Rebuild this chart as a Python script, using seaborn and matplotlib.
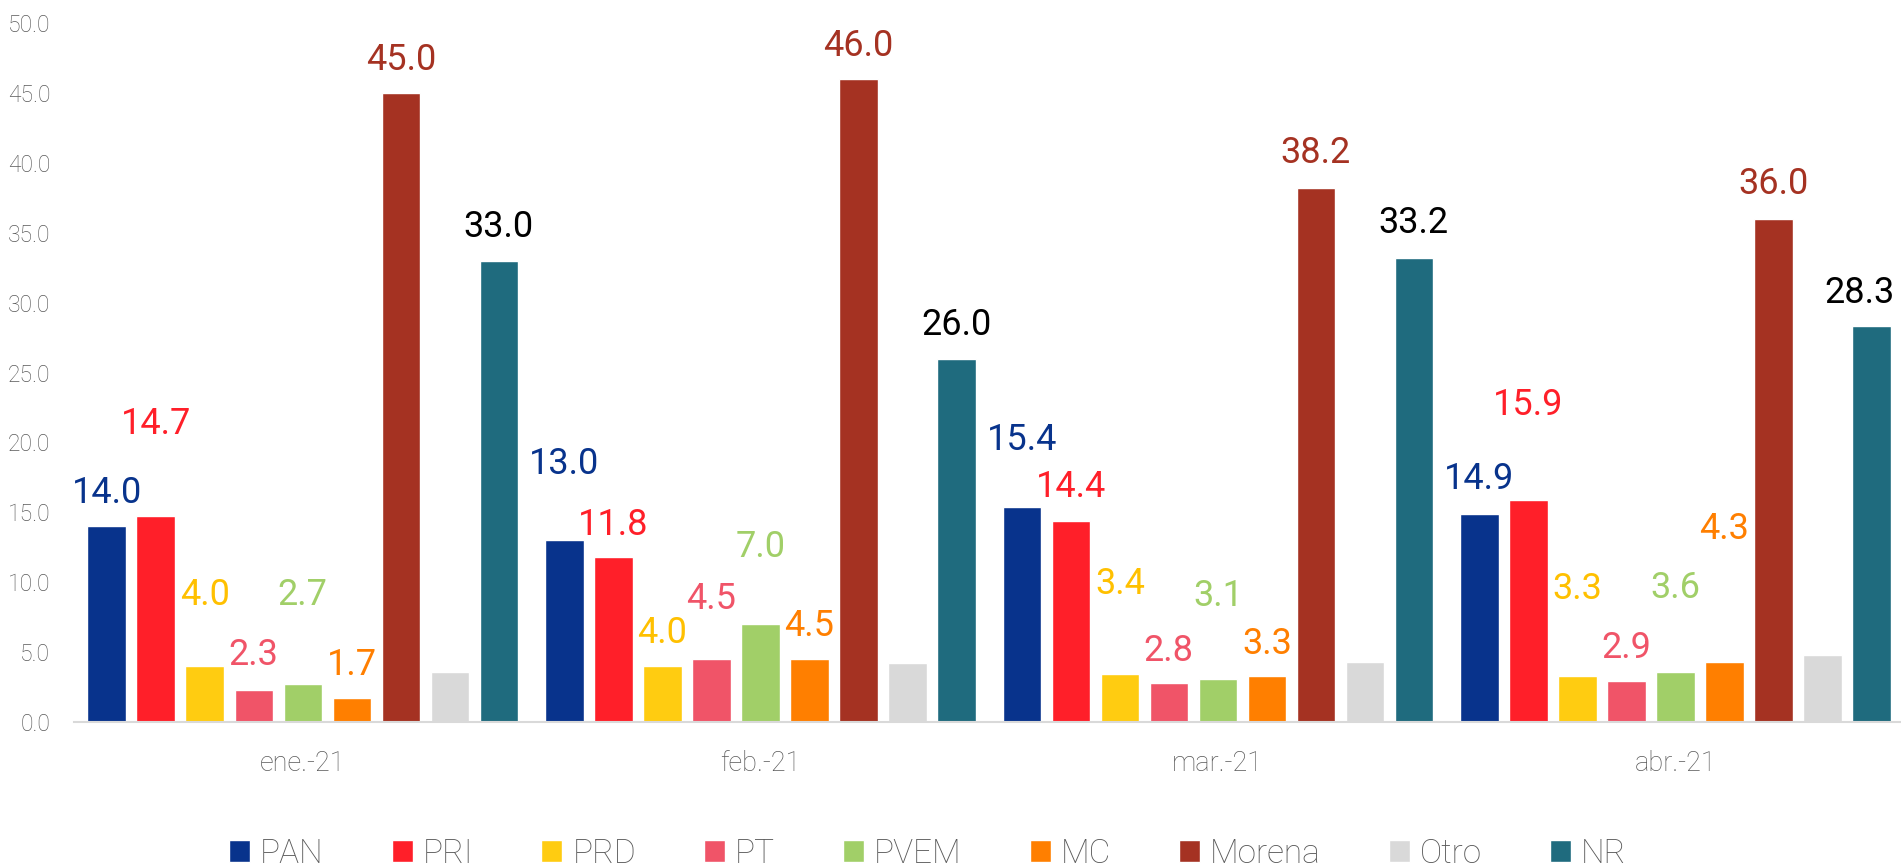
import numpy as np
import pandas as pd
import matplotlib
matplotlib.use("Agg")
import matplotlib.pyplot as plt
import seaborn as sns
from matplotlib.ticker import FormatStrFormatter

# --- Data ---
meses = ["ene.-21", "feb.-21", "mar.-21", "abr.-21"]
partidos = ["PAN", "PRI", "PRD", "PT", "PVEM", "MC", "Morena", "Otro", "NR"]

pan = [14.0, 13.0, 15.4, 14.9]
pri = [14.7, 11.8, 14.4, 15.9]
prd = [4.0, 4.0, 3.4, 3.3]
pt = [2.3, 4.5, 2.8, 2.9]
pvem = [2.7, 7.0, 3.1, 3.6]
mc = [1.7, 4.5, 3.3, 4.3]
morena = [45.0, 46.0, 38.2, 36.0]
otro = [3.6, 4.2, 4.3, 4.8]
nr = [33.0, 26.0, 33.2, 28.3]

valores = [pan, pri, prd, pt, pvem, mc, morena, otro, nr]

# --- Style ---
colores = ["#08338C", "#FF1F29", "#FFCC11", "#F05468", "#A1CF68",
           "#FF7F00", "#A53222", "#D9D9D9", "#1F6B7E"]
colores_etiqueta = ["#08338C", "#FF1F29", "#FFC000", "#F05468", "#A1CF68",
                    "#FF7F00", "#A53222", None, "#000000"]

# vertical position of each value label (centre) above its bar, data units
desfase = {
    "PAN": [2.6, 5.7, 5.0, 2.7],
    "PRI": [6.8, 2.5, 2.6, 7.0],
    "PRD": [5.3, 2.6, 6.7, 6.4],
    "PT": [2.7, 4.5, 2.5, 2.6],
    "PVEM": [6.6, 5.7, 6.1, 6.2],
    "MC": [2.6, 2.6, 2.5, 9.7],
    "Morena": [2.6, 2.6, 2.7, 2.7],
    "NR": [2.6, 2.6, 2.7, 2.6],
}

rows = []
for partido, serie in zip(partidos, valores):
    for mes, v in zip(meses, serie):
        rows.append({"mes": mes, "partido": partido, "valor": v})
df = pd.DataFrame(rows)

sns.set_theme(style="white")
plt.rcParams["font.family"] = ["Roboto", "DejaVu Sans"]
plt.rcParams["font.weight"] = "light"

W, H = 1901, 868
fig = plt.figure(figsize=(W / 100, H / 100), dpi=100)
ax = fig.add_axes([74 / W, 1 - 722 / H, (W - 74) / W, 699 / H])

sns.barplot(data=df, x="mes", y="valor", hue="partido", order=meses,
            hue_order=partidos, palette=colores, width=0.964, gap=0.214,
            saturation=1, errorbar=None, legend=False, ax=ax)

ax.set_xlim(-0.5, 3.493)
ax.set_ylim(0, 50)
ax.set_xlabel("")
ax.set_ylabel("")
ax.set_yticks(np.arange(0, 51, 5))
ax.yaxis.set_major_formatter(FormatStrFormatter("%.1f"))
ax.tick_params(axis="y", length=0, pad=17, labelsize=16.5, labelcolor="#595959")
ax.tick_params(axis="x", length=0, pad=20, labelsize=19.5, labelcolor="#595959")

sns.despine(ax=ax, left=True)
ax.spines["bottom"].set_color("#D9D9D9")
ax.spines["bottom"].set_linewidth(1.5)

# value labels
medio_cap = 0.93
etiquetas = []
for cont, partido, col in zip(ax.containers, partidos, colores_etiqueta):
    if partido == "Otro":
        continue
    for j, bar in enumerate(cont):
        h = bar.get_height()
        x = bar.get_x() + bar.get_width() / 2
        t = ax.text(x, h + desfase[partido][j] - medio_cap, f"{h:.1f}",
                    ha="center", va="baseline", fontsize=26,
                    fontweight="normal", color=col, clip_on=False)
        etiquetas.append(t)

# keep labels inside the right edge of the figure (as the original does)
fig.canvas.draw()
r = fig.canvas.get_renderer()
for t in etiquetas:
    bb = t.get_window_extent(r)
    if bb.x1 > W - 6:
        dx = (bb.x1 - (W - 6)) / ax.bbox.width * np.diff(ax.get_xlim())[0]
        x0, y0 = t.get_position()
        t.set_position((x0 - dx, y0))

fig.legend(list(ax.containers), partidos, loc="center",
           bbox_to_anchor=(0.488, 0.016), ncol=9, frameon=False,
           fontsize=24, handlelength=0.63, handleheight=0.63,
           handletextpad=0.3, columnspacing=2.04, labelcolor="#595959",
           borderpad=0)

fig.savefig("out.png", dpi=100)
